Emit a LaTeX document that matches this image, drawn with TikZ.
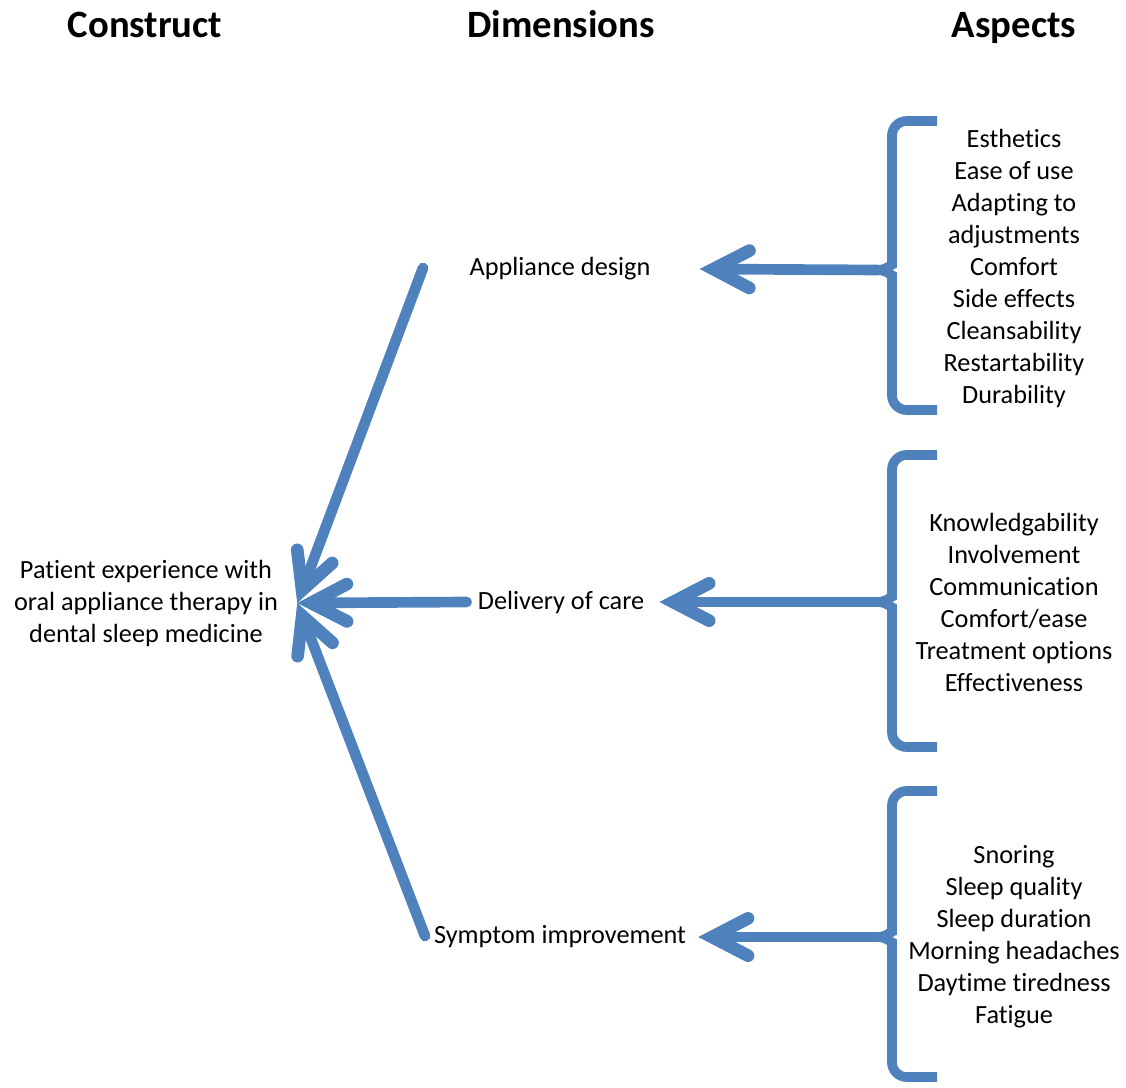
\documentclass[tikz,border=0pt]{standalone}
\usepackage{fontspec}
\setmainfont{Carlito}[Ligatures=NoCommon]
\usetikzlibrary{arrows.meta}
\definecolor{linkblue}{HTML}{4F81BD}
\begin{document}
\begin{tikzpicture}[x=0.75pt,y=-0.75pt,
  head/.style={font=\fontsize{29}{35}\selectfont\bfseries, inner sep=0pt, anchor=base},
  body/.style={font=\fontsize{19.7}{24}\selectfont, align=center, inner sep=0pt},
  flow/.style={draw=linkblue, line width=8pt, line cap=round,
    -{Straight Barb[length=27pt,width=28pt,line width=9.5pt,line cap=round,line join=miter]}},
  bracket/.style={draw=linkblue, line width=7.3pt, rounded corners=11pt}]
\useasboundingbox (0,0) rectangle (1126,1087);

% column headings
\node[head] (hcon) at (145,38) {Construct};
\node[head] (hdim) at (561,38) {Dimensions};
\node[head] (hasp) at (1014,38) {Aspects};

% construct
\node[body, inner xsep=19pt*0.75] (con) at (146,603)
  {Patient experience with\\oral appliance therapy in\\dental sleep medicine};

% dimensions
\node[body] (app) at (560,269) {Appliance design};
\node[body] (del) at (561,602) {Delivery of care};
\node[body] (sym) at (560,937) {Symptom improvement};

% aspects
\node[body] (aspapp) at (1014,268)
  {Esthetics\\Ease of use\\Adapting to\\adjustments\\Comfort\\Side effects\\Cleansability\\Restartability\\Durability};
\node[body] (aspdel) at (1014,602)
  {Knowledgability\\Involvement\\Communication\\Comfort/ease\\Treatment options\\Effectiveness};
\node[body] (aspsym) at (1014,937)
  {Snoring\\Sleep quality\\Sleep duration\\Morning headaches\\Daytime tiredness\\Fatigue};

% brackets grouping the aspects
\newcommand{\aspectbracket}[4]{% name, top, cusp, bottom
  \coordinate (#1) at (878,#3);
  \draw[bracket] (937,#2) -- (892,#2) -- (892,#3-20)
    .. controls (892,#3-6) and (886,#3) .. (#1);
  \draw[bracket] (937,#4) -- (892,#4) -- (892,#3+20)
    .. controls (892,#3+6) and (886,#3) .. (#1);
}
\aspectbracket{bapp}{121}{270}{410}
\aspectbracket{bdel}{455}{602}{747}
\aspectbracket{bsym}{791}{937}{1077}

% aspects to dimensions
\draw[flow] (bapp) -- ([xshift=49*0.75pt]app.east);
\draw[flow] (bdel) -- ([xshift=15*0.75pt]del.east);
\draw[flow] (bsym) -- ([xshift=12*0.75pt]sym.east);

% dimensions to construct
\coordinate (apptail) at (423,268);
\coordinate (symtail) at (425,936);
\draw[flow] (apptail) -- (con.east);
\draw[flow] ([xshift=-11*0.75pt]del.west) -- (con.east);
\draw[flow] (symtail) -- (con.east);
\end{tikzpicture}
\end{document}
